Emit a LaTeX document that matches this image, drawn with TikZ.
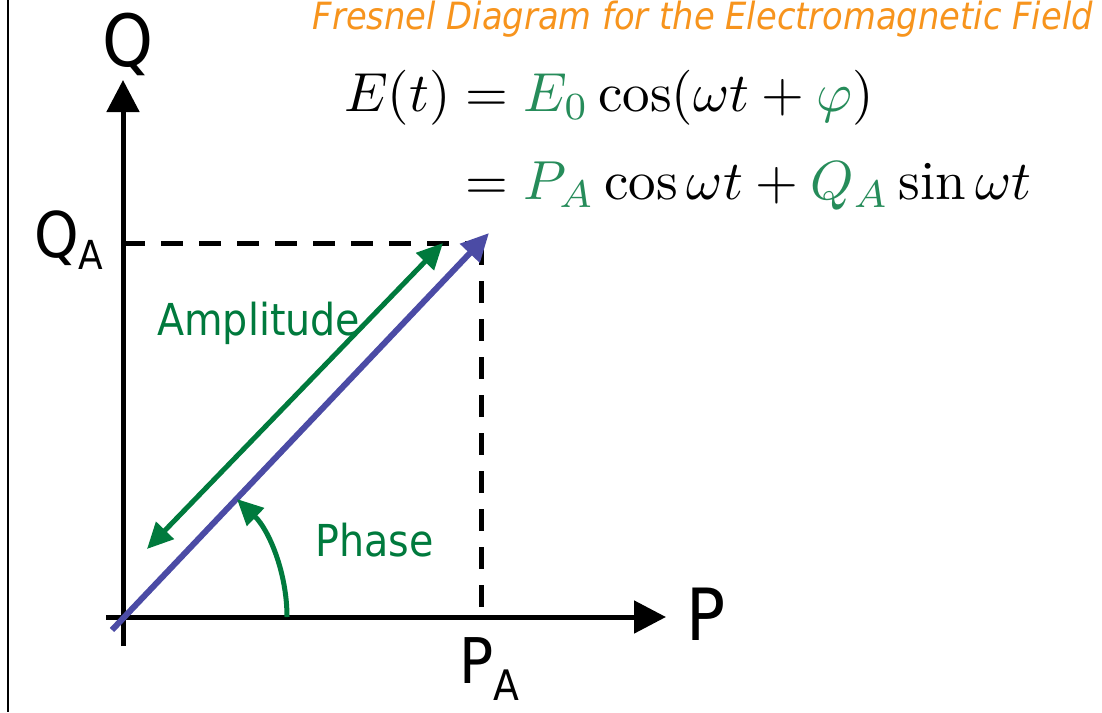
\documentclass[tikz,border=0pt]{standalone}
\usepackage{amsmath}
\usepackage{fontspec}
\newfontfamily\tah[FakeStretch=0.9]{DejaVu Sans}
\usetikzlibrary{arrows.meta}
\definecolor{eqgreen}{RGB}{38,140,90}
\definecolor{arrgreen}{RGB}{0,122,61}
\definecolor{vecblue}{RGB}{75,75,165}
\definecolor{titleorange}{RGB}{247,148,29}
\begin{document}
\begin{tikzpicture}[x=1pt,y=-1pt,
  axis/.style={line width=5pt,-{Triangle[length=32pt,width=32pt]}},
  dashline/.style={line width=5pt,dash pattern=on 22pt off 16pt},
  vec/.style={vecblue,line width=6pt,-{Triangle[length=28pt,width=26pt]}},
  amp/.style={arrgreen,line width=5pt,{Triangle[length=26pt,width=24pt]}-{Triangle[length=26pt,width=24pt]}},
  phasearc/.style={arrgreen,line width=5pt,-{Triangle[length=26pt,width=24pt]}},
  biglab/.style={font=\tah\fontsize{72}{72}\selectfont,inner sep=0pt},
  sublab/.style={font=\tah\fontsize{63}{63}\selectfont,inner sep=0pt},
  greenlab/.style={arrgreen,font=\tah\fontsize{44}{44}\selectfont,inner sep=0pt}]
\useasboundingbox (0,0) rectangle (1102,712);
\fill[white] (0,0) rectangle (1102,712);
% left border
\coordinate (Btop) at (8,0);
\coordinate (Bbot) at (8,712);
\draw[line width=2.5pt] (Btop) -- (Bbot);
% key points
\coordinate (O) at (123,617);
\coordinate (Qtop) at (123,80);
\coordinate (Qbot) at (123,646);
\coordinate (Pleft) at (106,617);
\coordinate (Ptip) at (666,617);
\coordinate (C) at (481,243);
\coordinate (QAy) at (123,243);
\coordinate (PAx) at (481,612);
\coordinate (Bs) at (112,630);
\coordinate (Be) at (489,233);
\coordinate (Gs) at (147,549);
\coordinate (Ge) at (443,243);
\coordinate (Arc0) at (287,617);
% dashed projections
\draw[dashline] (QAy) -- (C);
\draw[dashline] (C) -- (PAx);
% axes
\draw[axis] (Qbot) -- (Qtop);
\draw[axis] (Pleft) -- (Ptip);
% vector
\draw[vec] (Bs) -- (Be);
% amplitude arrow
\draw[amp] (Gs) -- (Ge);
% phase arc
\draw[phasearc] (Arc0) arc[start angle=0,end angle=-46,radius=164];
% labels
\node[biglab] (Qlab) at (128,44) {Q};
\node[biglab] (Plab) at (706,614) {P};
\node[sublab,anchor=base west] (QAlab) at (34,257) {Q\raisebox{-12pt}{\fontsize{40}{40}\selectfont A}};
\node[sublab,anchor=base west] (PAlab) at (459,683) {P\raisebox{-17pt}{\fontsize{42}{42}\selectfont A}};
\node[greenlab,anchor=base west] (Amp) at (157,335) {Amplitude};
\node[greenlab,anchor=base west] (Phase) at (315,556) {Phase};
\node[titleorange,font=\tah\itshape\fontsize{37.5}{37.5}\selectfont,anchor=base east,inner sep=0pt] (Title) at (1093,29) {Fresnel Diagram for the Electromagnetic Field};
\node[anchor=north west,inner sep=0pt,scale=5.5,font=\fontsize{10}{13}\selectfont] (Eq) at (343,60)
  {$\begin{aligned} E(t) &= \textcolor{eqgreen}{E_0}\cos(\omega t+\textcolor{eqgreen}{\varphi})\\
   &= \textcolor{eqgreen}{P_A}\cos\omega t+\textcolor{eqgreen}{Q_A}\sin\omega t\end{aligned}$};
\end{tikzpicture}
\end{document}
